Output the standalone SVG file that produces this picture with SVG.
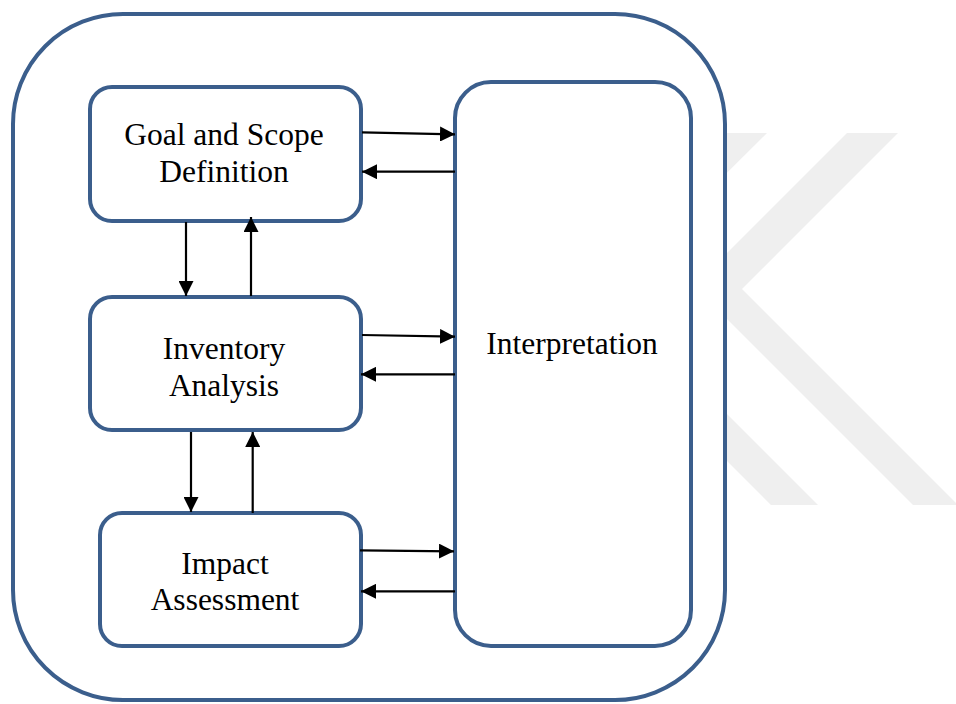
<svg xmlns="http://www.w3.org/2000/svg" width="956" height="704" viewBox="0 0 956 704">
  <style>
    .frame { fill: #ffffff; stroke: #3b5e8c; stroke-width: 4; }
    .box { fill: #ffffff; stroke: #3b5e8c; stroke-width: 4; }
    .lbl { font-family: "Liberation Serif", "Times New Roman", serif; font-size: 31.5px; fill: #000000; text-anchor: middle; }
    .arr { stroke: #000000; stroke-width: 2.2; fill: none; marker-end: url(#ah); }
    .wm { fill: #efefef; }
  </style>
  <defs>
    <marker id="ah" markerUnits="userSpaceOnUse" markerWidth="15" markerHeight="15" refX="15" refY="7.5" orient="auto" viewBox="0 0 15 15">
      <path d="M0,0 L15,7.5 L0,15 Z" fill="#000000"/>
    </marker>
  </defs>
  <rect width="956" height="704" fill="#ffffff"/>
  <g id="watermark">
    <polygon class="wm" points="847,133 898,133 742,289 958,505 913,505 694,286"/>
    <polygon class="wm" points="716,133 767,133 606,293 818,505 771,505 557,291"/>
  </g>
  <g id="frame">
    <rect class="frame" x="13" y="14" width="712" height="686" rx="110" ry="110"/>
  </g>
  <g id="goal">
    <rect class="box" x="90" y="87" width="271" height="134" rx="22" ry="22"/>
    <text class="lbl" x="224" y="145">Goal and Scope</text>
    <text class="lbl" x="224" y="182">Definition</text>
  </g>
  <g id="inventory">
    <rect class="box" x="90" y="297" width="271" height="133" rx="22" ry="22"/>
    <text class="lbl" x="224" y="359">Inventory</text>
    <text class="lbl" x="224" y="396">Analysis</text>
  </g>
  <g id="impact">
    <rect class="box" x="100" y="513" width="261" height="133" rx="22" ry="22"/>
    <text class="lbl" x="225" y="574">Impact</text>
    <text class="lbl" x="225" y="610">Assessment</text>
  </g>
  <g id="interpretation">
    <rect class="box" x="455" y="82" width="236" height="564" rx="36" ry="36"/>
    <text class="lbl" x="572" y="354">Interpretation</text>
  </g>
  <g id="connectors">
    <line class="arr" x1="362" y1="132.3" x2="455" y2="134.3"/>
    <line class="arr" x1="455" y1="171.7" x2="362" y2="171.7"/>
    <line class="arr" x1="362" y1="335" x2="455" y2="336.7"/>
    <line class="arr" x1="455" y1="374.3" x2="361" y2="374.3"/>
    <line class="arr" x1="360" y1="550.3" x2="454" y2="551.3"/>
    <line class="arr" x1="455" y1="591.3" x2="361" y2="591.3"/>
    <line class="arr" x1="186" y1="222" x2="186" y2="296"/>
    <line class="arr" x1="251" y1="296" x2="251" y2="217"/>
    <line class="arr" x1="191" y1="432" x2="191" y2="512"/>
    <line class="arr" x1="252.7" y1="513" x2="252.7" y2="432"/>
  </g>
</svg>
